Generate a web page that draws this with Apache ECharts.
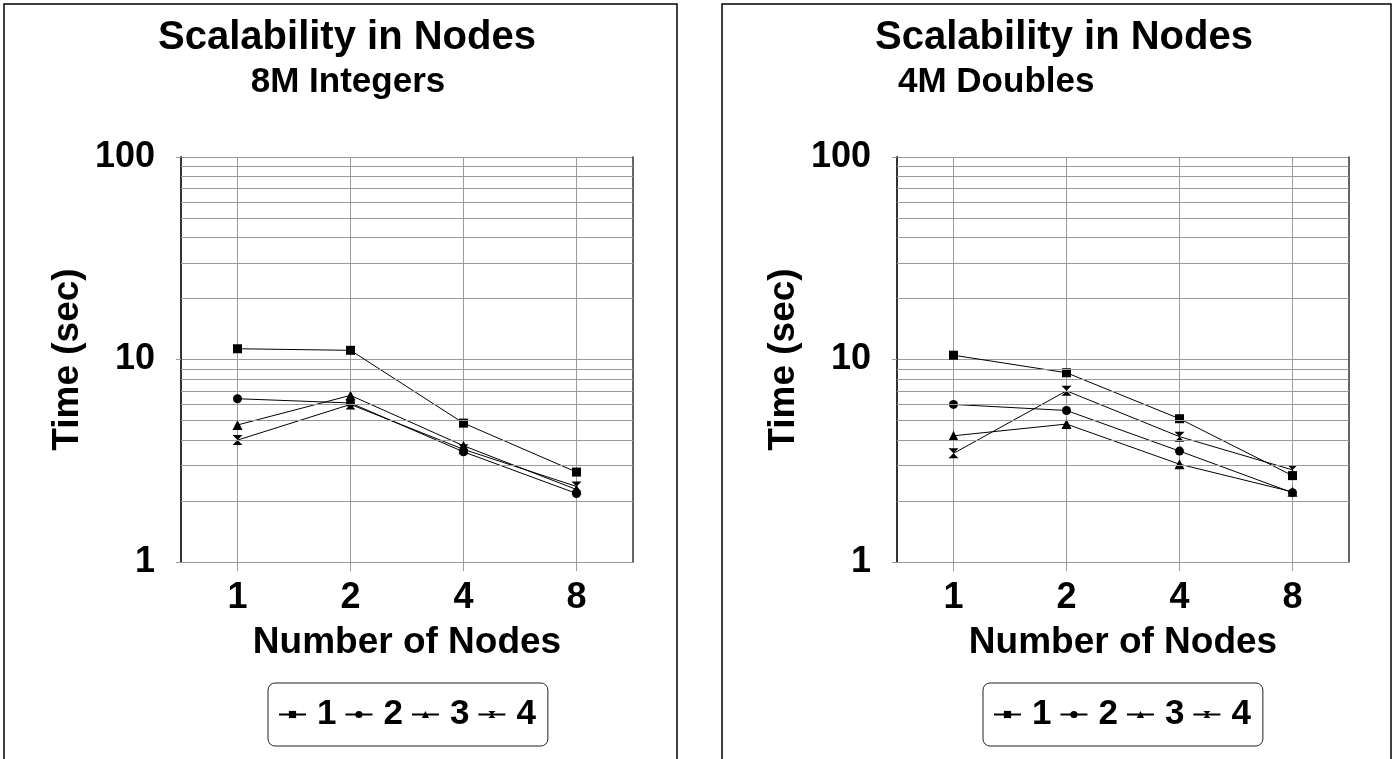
<!DOCTYPE html>
<html><head><meta charset="utf-8">
<script src="https://cdn.jsdelivr.net/npm/echarts@6/dist/echarts.min.js"></script>
<style>html,body{margin:0;padding:0;background:#fff}#c{width:1395px;height:759px}</style>
</head><body><div id="c"></div>
<script>
// ---- data ----
const categories = ['1', '2', '4', '8'];
const seriesNames = ['1', '2', '3', '4'];
const intS1 = [11.3, 11.1, 4.85, 2.78];
const intS2 = [6.4, 6.1, 3.5, 2.18];
const intS3 = [4.75, 6.65, 3.75, 2.28];
const intS4 = [4.0, 6.0, 3.6, 2.36];
const dblS1 = [10.5, 8.6, 5.1, 2.67];
const dblS2 = [6.0, 5.6, 3.53, 2.2];
const dblS3 = [4.2, 4.8, 3.04, 2.22];
const dblS4 = [3.44, 7.0, 4.16, 2.85];
const yMin = 1, yMax = 100;
const minorGridValues = [2, 3, 4, 5, 6, 7, 8, 9, 20, 30, 40, 50, 60, 70, 80, 90];
const mainTitles = ['Scalability in Nodes', 'Scalability in Nodes'];
const subTitles = ['8M Integers', '4M Doubles'];
const yAxisName = 'Time (sec)';
const xAxisName = 'Number of Nodes';

// ---- styling ----
const FONT = '"Liberation Sans", Arial, sans-serif';
const GRID_COLOR = '#9a9a9a';
const symbols = ['rect', 'circle', 'triangle', 'path://M0,0L10,0L5,5L10,10L0,10L5,5Z'];
const symbolSizes = [9, 9, 10, 10];
const panels = [
  { grid: { left: 181, top: 157, width: 452, height: 405 }, data: [intS1, intS2, intS3, intS4],
    titleX: 342, subX: 343, subAlign: 'center', legendLeft: 268 },
  { grid: { left: 897, top: 157, width: 452, height: 405 }, data: [dblS1, dblS2, dblS3, dblS4],
    titleX: 1059, subX: 893, subAlign: 'left', legendLeft: 983 }
];

const option = {
  animation: false,
  backgroundColor: '#fff',
  textStyle: { fontFamily: FONT },
  title: [], legend: [], grid: [], xAxis: [], yAxis: [], series: [],
  graphic: [
    { type: 'rect', shape: { x: 4, y: 4, width: 673, height: 770 }, style: { fill: 'none', stroke: '#000', lineWidth: 1.5 }, silent: true },
    { type: 'rect', shape: { x: 722, y: 4, width: 669, height: 770 }, style: { fill: 'none', stroke: '#000', lineWidth: 1.5 }, silent: true }
  ]
};

panels.forEach((p, i) => {
  option.title.push({
    text: mainTitles[i], left: p.titleX, top: 13, textAlign: 'center',
    textStyle: { fontFamily: FONT, fontSize: 40, fontWeight: 'bold', color: '#000' }
  });
  option.title.push({
    text: subTitles[i], left: p.subX, top: 60, textAlign: p.subAlign,
    textStyle: { fontFamily: FONT, fontSize: 35, fontWeight: 'bold', color: '#000' }
  });
  option.grid.push(Object.assign({ containLabel: false }, p.grid));
  option.xAxis.push({
    type: 'category', gridIndex: i, data: categories, boundaryGap: true,
    axisLine: { show: true, lineStyle: { color: GRID_COLOR, width: 1 } },
    axisTick: { show: true, alignWithLabel: true, length: 9, lineStyle: { color: GRID_COLOR } },
    splitLine: { show: true, alignWithLabel: true, lineStyle: { color: GRID_COLOR, width: 1 } },
    axisLabel: { fontFamily: FONT, fontSize: 36, fontWeight: 'bold', color: '#000', margin: 18 },
    name: xAxisName, nameLocation: 'middle', nameGap: 62,
    nameTextStyle: { fontFamily: FONT, fontSize: 37, fontWeight: 'bold', color: '#000' }
  });
  option.yAxis.push({
    type: 'log', logBase: 10, gridIndex: i, min: yMin, max: yMax,
    axisLine: { show: true, lineStyle: { color: '#333', width: 2 } },
    axisTick: { show: true, length: 5, lineStyle: { color: GRID_COLOR } },
    splitLine: { show: true, lineStyle: { color: GRID_COLOR, width: 1 } },
    axisLabel: { fontFamily: FONT, fontSize: 36, fontWeight: 'bold', color: '#000', margin: 26 },
    name: yAxisName, nameLocation: 'middle', nameRotate: 90, nameGap: 95,
    nameTextStyle: { fontFamily: FONT, fontSize: 37, fontWeight: 'bold', color: '#000' }
  });
  option.yAxis.push({
    type: 'log', logBase: 10, gridIndex: i, min: yMin, max: yMax, position: 'right',
    axisLine: { show: true, lineStyle: { color: '#333', width: 1.5 } },
    axisTick: { show: false }, axisLabel: { show: false }, splitLine: { show: false }
  });
  option.legend.push({
    left: p.legendLeft, top: 683, orient: 'horizontal',
    data: seriesNames, itemWidth: 27, itemHeight: 9, itemGap: 8,
    padding: [14, 12, 14, 10],
    borderColor: '#222', borderWidth: 1, borderRadius: 7,
    textStyle: { fontFamily: FONT, fontSize: 35, fontWeight: 'bold', color: '#000', padding: [0, 0, 0, 6] },
    selectedMode: false
  });
  // minor gridlines through the log scale
  option.series.push({
    type: 'line', name: '_grid' + i, xAxisIndex: i, yAxisIndex: i * 2, data: [], silent: true, z: 1,
    markLine: {
      silent: true, symbol: ['none', 'none'], label: { show: false }, animation: false,
      lineStyle: { color: GRID_COLOR, type: 'solid', width: 1 },
      emphasis: { disabled: true },
      data: minorGridValues.map(v => ({ yAxis: v }))
    }
  });
  p.data.forEach((vals, k) => {
    option.series.push({
      type: 'line', name: seriesNames[k], xAxisIndex: i, yAxisIndex: i * 2,
      data: vals, symbol: symbols[k], symbolSize: symbolSizes[k], symbolKeepAspect: true,
      showSymbol: true, z: 3,
      lineStyle: { color: '#000', width: 1 }, itemStyle: { color: '#000' },
      emphasis: { disabled: true }
    });
  });
});

const chart = echarts.init(document.getElementById('c'), null, { renderer: 'canvas' });
chart.setOption(option);
</script>
</body></html>
